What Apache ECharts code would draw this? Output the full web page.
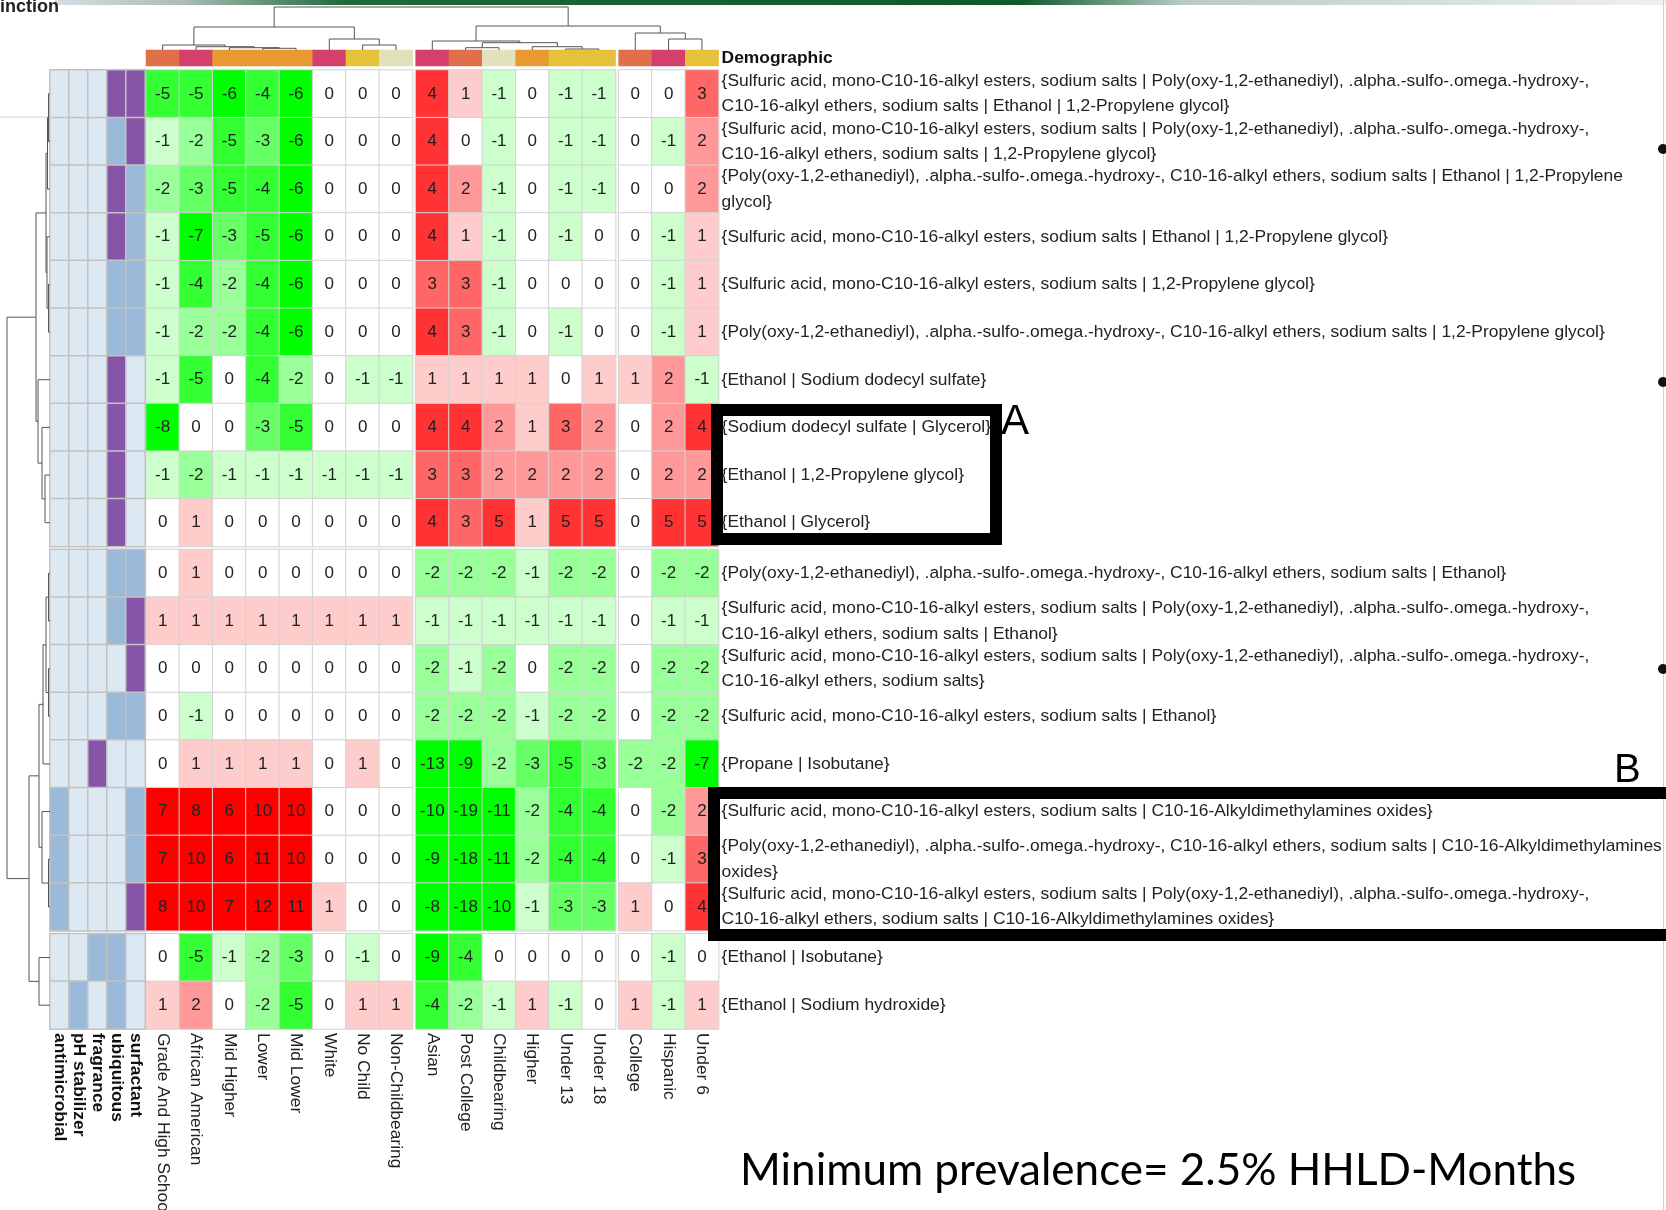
<!DOCTYPE html>
<html>
<head>
<meta charset="utf-8">
<script src="https://cdn.jsdelivr.net/npm/echarts@6/dist/echarts.min.js"></script>
<style>html,body{margin:0;padding:0;background:#fff}#chart{width:1666px;height:1210px}</style>
</head>
<body>
<div id="chart"></div>
<script>
// ---------------- DATA ----------------
const columns = ['Grade And High School','African American','Mid Higher','Lower','Mid Lower','White','No Child','Non-Childbearing',
  'Asian','Post College','Childbearing','Higher','Under 13','Under 18','College','Hispanic','Under 6'];
const colGroupSizes = [8, 6, 3];
const rowGroupSizes = [10, 8, 2];
const demographicGroups = ['Education','Race','Income','Children','Childbearing'];
const columnDemographic = ['Education','Race','Income','Income','Income','Race','Children','Childbearing',
  'Race','Education','Childbearing','Income','Children','Children','Education','Race','Children'];

const rowLabels = [
  '{Sulfuric acid, mono-C10-16-alkyl esters, sodium salts | Poly(oxy-1,2-ethanediyl), .alpha.-sulfo-.omega.-hydroxy-, C10-16-alkyl ethers, sodium salts | Ethanol | 1,2-Propylene glycol}',
  '{Sulfuric acid, mono-C10-16-alkyl esters, sodium salts | Poly(oxy-1,2-ethanediyl), .alpha.-sulfo-.omega.-hydroxy-, C10-16-alkyl ethers, sodium salts | 1,2-Propylene glycol}',
  '{Poly(oxy-1,2-ethanediyl), .alpha.-sulfo-.omega.-hydroxy-, C10-16-alkyl ethers, sodium salts | Ethanol | 1,2-Propylene glycol}',
  '{Sulfuric acid, mono-C10-16-alkyl esters, sodium salts | Ethanol | 1,2-Propylene glycol}',
  '{Sulfuric acid, mono-C10-16-alkyl esters, sodium salts | 1,2-Propylene glycol}',
  '{Poly(oxy-1,2-ethanediyl), .alpha.-sulfo-.omega.-hydroxy-, C10-16-alkyl ethers, sodium salts | 1,2-Propylene glycol}',
  '{Ethanol | Sodium dodecyl sulfate}',
  '{Sodium dodecyl sulfate | Glycerol}',
  '{Ethanol | 1,2-Propylene glycol}',
  '{Ethanol | Glycerol}',
  '{Poly(oxy-1,2-ethanediyl), .alpha.-sulfo-.omega.-hydroxy-, C10-16-alkyl ethers, sodium salts | Ethanol}',
  '{Sulfuric acid, mono-C10-16-alkyl esters, sodium salts | Poly(oxy-1,2-ethanediyl), .alpha.-sulfo-.omega.-hydroxy-, C10-16-alkyl ethers, sodium salts | Ethanol}',
  '{Sulfuric acid, mono-C10-16-alkyl esters, sodium salts | Poly(oxy-1,2-ethanediyl), .alpha.-sulfo-.omega.-hydroxy-, C10-16-alkyl ethers, sodium salts}',
  '{Sulfuric acid, mono-C10-16-alkyl esters, sodium salts | Ethanol}',
  '{Propane | Isobutane}',
  '{Sulfuric acid, mono-C10-16-alkyl esters, sodium salts | C10-16-Alkyldimethylamines oxides}',
  '{Poly(oxy-1,2-ethanediyl), .alpha.-sulfo-.omega.-hydroxy-, C10-16-alkyl ethers, sodium salts | C10-16-Alkyldimethylamines oxides}',
  '{Sulfuric acid, mono-C10-16-alkyl esters, sodium salts | Poly(oxy-1,2-ethanediyl), .alpha.-sulfo-.omega.-hydroxy-, C10-16-alkyl ethers, sodium salts | C10-16-Alkyldimethylamines oxides}',
  '{Ethanol | Isobutane}',
  '{Ethanol | Sodium hydroxide}'
];

const cellValues = [
  [-5,-5,-6,-4,-6, 0, 0, 0,   4, 1,-1, 0,-1,-1,   0, 0, 3],
  [-1,-2,-5,-3,-6, 0, 0, 0,   4, 0,-1, 0,-1,-1,   0,-1, 2],
  [-2,-3,-5,-4,-6, 0, 0, 0,   4, 2,-1, 0,-1,-1,   0, 0, 2],
  [-1,-7,-3,-5,-6, 0, 0, 0,   4, 1,-1, 0,-1, 0,   0,-1, 1],
  [-1,-4,-2,-4,-6, 0, 0, 0,   3, 3,-1, 0, 0, 0,   0,-1, 1],
  [-1,-2,-2,-4,-6, 0, 0, 0,   4, 3,-1, 0,-1, 0,   0,-1, 1],
  [-1,-5, 0,-4,-2, 0,-1,-1,   1, 1, 1, 1, 0, 1,   1, 2,-1],
  [-8, 0, 0,-3,-5, 0, 0, 0,   4, 4, 2, 1, 3, 2,   0, 2, 4],
  [-1,-2,-1,-1,-1,-1,-1,-1,   3, 3, 2, 2, 2, 2,   0, 2, 2],
  [ 0, 1, 0, 0, 0, 0, 0, 0,   4, 3, 5, 1, 5, 5,   0, 5, 5],
  [ 0, 1, 0, 0, 0, 0, 0, 0,  -2,-2,-2,-1,-2,-2,   0,-2,-2],
  [ 1, 1, 1, 1, 1, 1, 1, 1,  -1,-1,-1,-1,-1,-1,   0,-1,-1],
  [ 0, 0, 0, 0, 0, 0, 0, 0,  -2,-1,-2, 0,-2,-2,   0,-2,-2],
  [ 0,-1, 0, 0, 0, 0, 0, 0,  -2,-2,-2,-1,-2,-2,   0,-2,-2],
  [ 0, 1, 1, 1, 1, 0, 1, 0, -13,-9,-2,-3,-5,-3,  -2,-2,-7],
  [ 7, 8, 6,10,10, 0, 0, 0, -10,-19,-11,-2,-4,-4, 0,-2, 2],
  [ 7,10, 6,11,10, 0, 0, 0,  -9,-18,-11,-2,-4,-4, 0,-1, 3],
  [ 8,10, 7,12,11, 1, 0, 0,  -8,-18,-10,-1,-3,-3, 1, 0, 4],
  [ 0,-5,-1,-2,-3, 0,-1, 0,  -9,-4, 0, 0, 0, 0,   0,-1, 0],
  [ 1, 2, 0,-2,-5, 0, 1, 1,  -4,-2,-1, 1,-1, 0,   1,-1, 1]
];

// row annotations (0 = absent, 1 = blue, 2 = purple)
const annotationNames = ['antimicrobial','pH stabilizer','fragrance','ubiquitous','surfactant'];
const antimicrobial = [0,0,0,0,0,0,0,0,0,0, 0,0,0,0,0,1,1,1, 0,0];
const phStabilizer  = [0,0,0,0,0,0,0,0,0,0, 0,0,0,0,0,0,0,0, 0,1];
const fragrance     = [0,0,0,0,0,0,0,0,0,0, 0,0,0,0,2,0,0,0, 1,0];
const ubiquitous    = [2,1,2,2,1,1,2,2,2,2, 1,1,0,1,0,0,0,0, 1,1];
const surfactant    = [2,2,1,1,1,1,0,0,0,0, 1,2,2,1,0,1,1,2, 0,0];
const annotationLevels = [0, 1, 2];

// dendrograms: [left, right, height]
const columnTree = [[[0,[1,[2,[3,4,1.7],2.3],3.3],5],[5,[6,7,5],11],23],
                    [[8,[[9,10,2.3],[11,[12,13,1],3.3],7.3],9],[14,[15,16,11],17],24],43];
const rowTree = [[[[[0,1,1.5],2,2.5],[3,[4,5,1.5],3],4],[6,[7,[8,9,5],8],12],14],
                 [[[[[10,11,1.5],[12,13,1.5],4],14,7],[15,[16,17,1.5],8],11],[18,19,11],21],43];

// ---------------- LAYOUT / STYLE ----------------
const FONT = '"Liberation Sans", Arial, sans-serif';
const FS = 17.4;
const CW = 33.33, RH = 47.65, GX = 3, GY = 3;
const HX = 146, HY = 70, BAR_Y = 50, BAR_H = 16, ANN_X = 50, ANN_W = 19;
const WRAP_W = 948;
const heatPieces = [
  {lte:-6, color:'#00ff00'}, {gte:-5, lte:-4, color:'#33ff33'}, {gte:-3, lte:-3, color:'#66ff66'},
  {gte:-2, lte:-2, color:'#99ff99'}, {gte:-1, lte:-1, color:'#ccffcc'}, {gte:0, lte:0, color:'#ffffff'},
  {gte:1, lte:1, color:'#ffcccc'}, {gte:2, lte:2, color:'#ff9999'}, {gte:3, lte:3, color:'#ff6666'},
  {gte:4, lte:5, color:'#ff3333'}, {gte:6, color:'#ff0000'}
];
const demoColors = ['#e0704a','#d5406b','#e8992f','#e6c23b','#e1e1bb'];
const annColors = ['#dce8f2','#9bb9d9','#8655a7'];

// greedy word wrap for the long row labels
const measureCtx = document.createElement('canvas').getContext('2d');
measureCtx.font = FS + 'px ' + FONT;
function wrapLabel(text){
  const words = text.split(' ');
  const lines = []; let cur = '';
  for (const w of words) {
    const t = cur ? cur + ' ' + w : w;
    if (cur && measureCtx.measureText(t).width > WRAP_W) { lines.push(cur); cur = w; }
    else cur = t;
  }
  if (cur) lines.push(cur);
  return lines.join('\n');
}

function starts(sizes){ let s = 0; return sizes.map(n => { const r = s; s += n; return r; }); }
const colStarts = starts(colGroupSizes), rowStarts = starts(rowGroupSizes);
const nRows = rowLabels.length, nCols = columns.length;
const annotations = [antimicrobial, phStabilizer, fragrance, ubiquitous, surfactant];

const grids = [], xAxes = [], yAxes = [], series = [];
const heatSeries = [], demoSeries = [], annSeries = [];
const hidden = {show:false};
function addGrid(left, top, width, height){
  grids.push({left, top, width, height, containLabel:false, outerBoundsMode:'none'});
  return grids.length - 1;
}
function catAxis(gi, data, extra){
  return Object.assign({type:'category', gridIndex:gi, data, axisLine:hidden, axisTick:hidden, splitLine:hidden,
    axisLabel:{show:false}}, extra || {});
}

// heatmap blocks
for (let rg = 0; rg < rowGroupSizes.length; rg++) {
  const rs = rowStarts[rg], rn = rowGroupSizes[rg];
  const top = HY + rs * RH + rg * GY;
  for (let cg = 0; cg < colGroupSizes.length; cg++) {
    const cs = colStarts[cg], cn = colGroupSizes[cg];
    const gi = addGrid(HX + cs * CW + cg * GX, top, cn * CW, rn * RH);
    xAxes.push(catAxis(gi, columns.slice(cs, cs + cn), {position:'bottom',
      axisLabel:{show: rg === rowGroupSizes.length - 1, rotate:-90, interval:0, margin:4, fontSize:FS, color:'#222', fontFamily:FONT}}));
    yAxes.push(catAxis(gi, rowLabels.slice(rs, rs + rn), {position:'right', inverse:true,
      axisLabel:{show: cg === colGroupSizes.length - 1, interval:0, margin:3, fontSize:FS, color:'#222', fontFamily:FONT,
        lineHeight:25.5, align:'left', formatter: v => wrapLabel(v)}}));
    const data = [];
    for (let r = 0; r < rn; r++) for (let c = 0; c < cn; c++) data.push([c, r, cellValues[rs + r][cs + c]]);
    heatSeries.push(series.length);
    series.push({type:'heatmap', xAxisIndex:gi, yAxisIndex:gi, data,
      itemStyle:{borderColor:'#d2d2d2', borderWidth:1},
      label:{show:true, formatter:p => String(p.value[2]), fontSize:17, color:'#222', fontFamily:FONT},
      emphasis:{disabled:true}});
  }
}

// demographic colour bar
for (let cg = 0; cg < colGroupSizes.length; cg++) {
  const cs = colStarts[cg], cn = colGroupSizes[cg];
  const gi = addGrid(HX + cs * CW + cg * GX, BAR_Y, cn * CW, BAR_H);
  xAxes.push(catAxis(gi, columns.slice(cs, cs + cn)));
  yAxes.push(catAxis(gi, ['Demographic'], {position:'right',
    axisLabel:{show: cg === colGroupSizes.length - 1, margin:3, fontSize:FS, fontWeight:'bold', color:'#111', fontFamily:FONT}}));
  const data = [];
  for (let c = 0; c < cn; c++) data.push([c, 0, demographicGroups.indexOf(columnDemographic[cs + c])]);
  demoSeries.push(series.length);
  series.push({type:'heatmap', xAxisIndex:gi, yAxisIndex:gi, data, emphasis:{disabled:true}});
}

// row annotations
for (let rg = 0; rg < rowGroupSizes.length; rg++) {
  const rs = rowStarts[rg], rn = rowGroupSizes[rg];
  const gi = addGrid(ANN_X, HY + rs * RH + rg * GY, annotationNames.length * ANN_W, rn * RH);
  xAxes.push(catAxis(gi, annotationNames, {position:'bottom',
    axisLabel:{show: rg === rowGroupSizes.length - 1, rotate:-90, interval:0, margin:4, fontSize:FS, fontWeight:'bold', color:'#111', fontFamily:FONT}}));
  yAxes.push(catAxis(gi, rowLabels.slice(rs, rs + rn), {inverse:true}));
  const data = [];
  for (let r = 0; r < rn; r++) for (let a = 0; a < annotations.length; a++) data.push([a, r, annotations[a][rs + r]]);
  annSeries.push(series.length);
  series.push({type:'heatmap', xAxisIndex:gi, yAxisIndex:gi, data,
    itemStyle:{borderColor:'#c2c2c2', borderWidth:1.5}, emphasis:{disabled:true}});
}

// dendrograms
function groupOf(i, sizes){ let s = 0; for (let g = 0; g < sizes.length; g++) { s += sizes[g]; if (i < s) return g; } return sizes.length - 1; }
function treeLinks(tree, leafPos){
  const links = [];
  (function walk(node){
    if (typeof node === 'number') return {pos: leafPos(node), h: 0};
    const l = walk(node[0]), r = walk(node[1]);
    links.push([l.pos, l.h, r.pos, r.h, node[2]]);
    return {pos: (l.pos + r.pos) / 2, h: node[2]};
  })(tree);
  return links;
}
function dendroSeries(gi, links, horizontal){
  return {type:'custom', coordinateSystem:'cartesian2d', xAxisIndex:gi, yAxisIndex:gi, clip:false, silent:true,
    data: links,
    renderItem: (params, api) => {
      const pt = (pos, h) => horizontal ? api.coord([h, pos]) : api.coord([pos, h]);
      const lp = api.value(0), lh = api.value(1), rp = api.value(2), rh = api.value(3), h = api.value(4);
      return {type:'polyline', shape:{points:[pt(lp, lh), pt(lp, h), pt(rp, h), pt(rp, rh)]},
        style:{stroke:'#555', lineWidth:1, fill:null}};
    }};
}
// row dendrogram (left)
{
  const gapU = GY / RH, totalU = nRows + (rowGroupSizes.length - 1) * gapU;
  const gi = addGrid(5, HY, 45, nRows * RH + (rowGroupSizes.length - 1) * GY);
  xAxes.push({type:'value', gridIndex:gi, min:0, max:45, inverse:true, show:false});
  yAxes.push({type:'value', gridIndex:gi, min:0, max:totalU, inverse:true, show:false});
  series.push(dendroSeries(gi, treeLinks(rowTree, i => i + 0.5 + groupOf(i, rowGroupSizes) * gapU), true));
}
// column dendrogram (top)
{
  const gapU = GX / CW, totalU = nCols + (colGroupSizes.length - 1) * gapU;
  const gi = addGrid(HX, 0, nCols * CW + (colGroupSizes.length - 1) * GX, BAR_Y);
  xAxes.push({type:'value', gridIndex:gi, min:0, max:totalU, show:false});
  yAxes.push({type:'value', gridIndex:gi, min:0, max:50, show:false});
  series.push(dendroSeries(gi, treeLinks(columnTree, j => j + 0.5 + groupOf(j, colGroupSizes) * gapU), false));
}

const chart = echarts.init(document.getElementById('chart'), null, {renderer:'canvas'});
chart.setOption({
  animation:false,
  backgroundColor:'#ffffff',
  grid: grids, xAxis: xAxes, yAxis: yAxes,
  visualMap: [
    {type:'piecewise', show:false, seriesIndex:heatSeries, dimension:2, pieces:heatPieces},
    {type:'piecewise', show:false, seriesIndex:demoSeries, dimension:2,
      pieces: demographicGroups.map((g, i) => ({value:i, color:demoColors[i]}))},
    {type:'piecewise', show:false, seriesIndex:annSeries, dimension:2,
      pieces: annotationLevels.map((v, i) => ({value:v, color:annColors[i]}))}
  ],
  series,
  graphic: [
    {type:'rect', shape:{x:55, y:0, width:1611, height:5}, silent:true,
      style:{fill:new echarts.graphic.LinearGradient(0, 0, 1, 0, [
        {offset:0, color:'#d5dee4'}, {offset:0.08, color:'#a9bdb4'}, {offset:0.18, color:'#1f6a3b'},
        {offset:0.6, color:'#0f5a2b'}, {offset:0.7, color:'#b8cbc4'}, {offset:1, color:'#eef1f2'}])}},
    {type:'text', silent:true, style:{x:0, y:16, text:'inction', fill:'#222', font:'bold 18px "Liberation Sans", Arial, sans-serif', verticalAlign:'bottom'}},
    {type:'line', silent:true, shape:{x1:0, y1:117, x2:133, y2:117}, style:{stroke:'#e2e2e2', lineWidth:1.5}},
    {type:'line', silent:true, shape:{x1:1663.5, y1:0, x2:1663.5, y2:1210}, style:{stroke:'#cfcfcf', lineWidth:1}},
    {type:'circle', silent:true, shape:{cx:1663, cy:149, r:5}, style:{fill:'#111'}},
    {type:'circle', silent:true, shape:{cx:1663, cy:382, r:5}, style:{fill:'#111'}},
    {type:'circle', silent:true, shape:{cx:1663, cy:669, r:5}, style:{fill:'#111'}},
    {type:'rect', silent:true, z:100, shape:{x:717, y:410, width:279, height:129}, style:{fill:'none', stroke:'#000', lineWidth:12}},
    {type:'text', silent:true, z:100, style:{x:1001, y:422, text:'A', fill:'#000', font:'42px "Liberation Sans", Arial, sans-serif', verticalAlign:'middle'}},
    {type:'rect', silent:true, z:100, shape:{x:714, y:793, width:1000, height:142}, style:{fill:'none', stroke:'#000', lineWidth:12}},
    {type:'text', silent:true, z:100, style:{x:1614, y:771, text:'B', fill:'#000', font:'40px "Liberation Sans", Arial, sans-serif', verticalAlign:'middle'}},
    {type:'text', silent:true, z:100, style:{x:740, y:1171, text:'Minimum prevalence= 2.5% HHLD-Months', fill:'#000', font:'44px Lato, "Open Sans", sans-serif', verticalAlign:'middle'}}
  ]
});
</script>
</body>
</html>
